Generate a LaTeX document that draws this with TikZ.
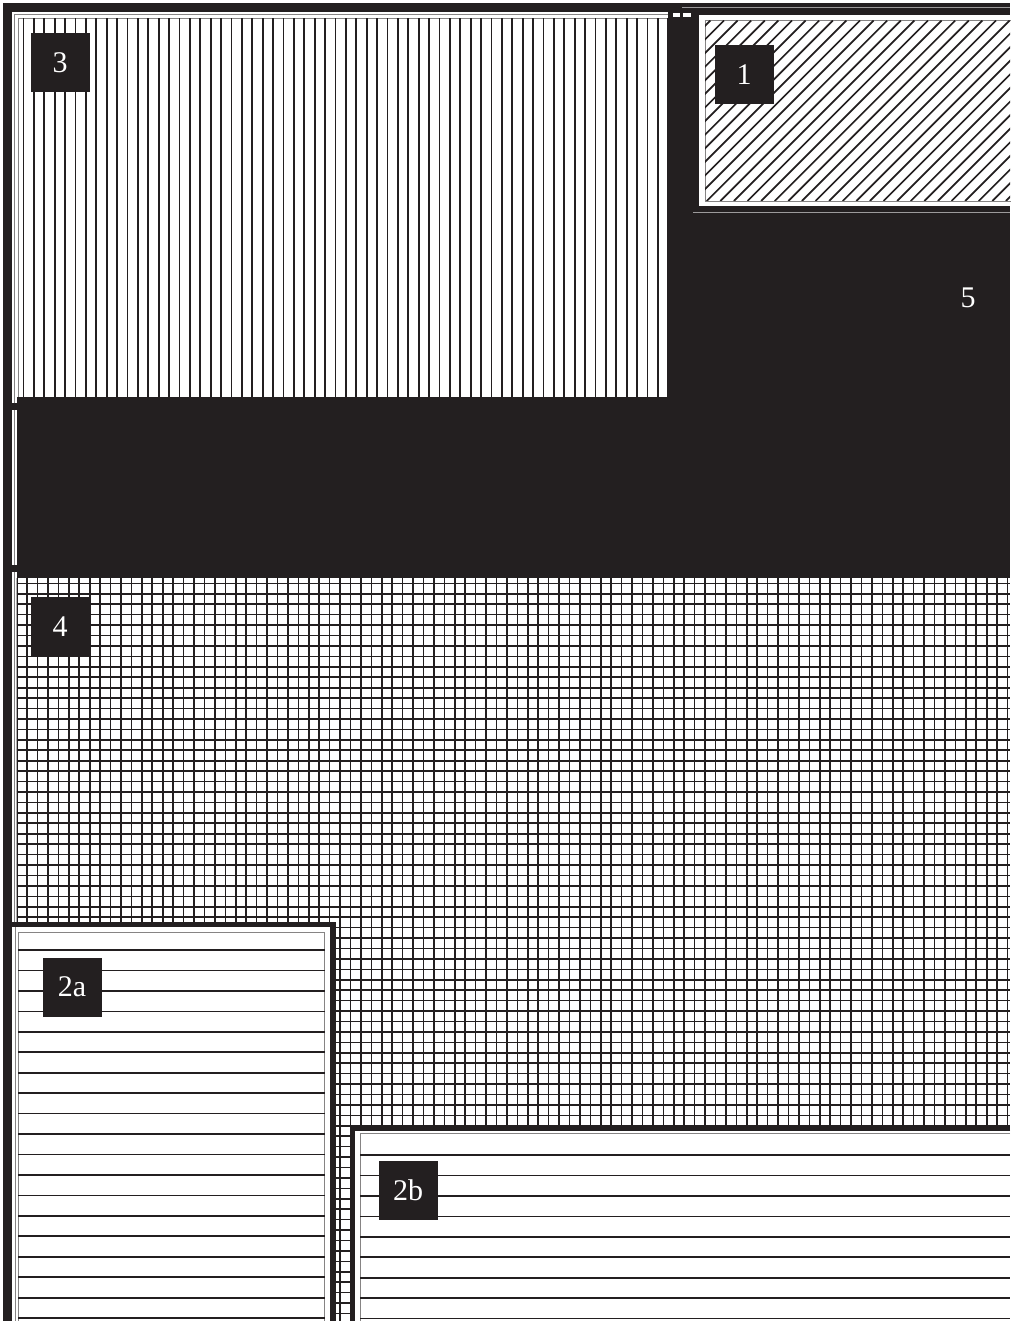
\documentclass[tikz,border=0pt]{standalone}
\usepackage{fontspec}
\setmainfont{Liberation Serif}
\usepackage{xcolor}
\usetikzlibrary{positioning}

\definecolor{ink}{RGB}{35,31,32}
\tikzset{
  numbox/.style={fill=ink, text=white, inner sep=0pt, minimum width=59pt, minimum height=59pt, font=\fontsize{30}{30}\selectfont},
  hatch/.style={line width=1.7pt, draw=ink},
  rim/.style={line width=0.8pt, draw=ink!55},
  wall/.style={line width=5.5pt, draw=ink},
}

\begin{document}
\begin{tikzpicture}[x=1pt, y=-1pt]
    \useasboundingbox (0,0) rectangle (1010,1321);
    \fill[white] (0,0) rectangle (1010,1321);

    % --- 1. PARAMETERS ---
    \def\gridStep{10.43}   % grid of zone 4
    \def\rowStep{20.45}    % rows of zones 2a / 2b
    \def\colStep{10.4}     % columns of zone 3
    \def\diagStep{13.6}    % diagonals of zone 1

    % --- 2. ZONE 5 (SOLID) AND OUTER FRAME ---
    \fill[ink] (668,3) rectangle (1010,397);
    \fill[ink] (12,397) rectangle (1010,578);
    \fill[ink] (3,3) rectangle (682,12);
    \fill[ink] (3,3) rectangle (12,1321);
    \draw[line width=0.6pt, ink!45] (682,7) -- (1010,7);
    \fill[white] (673,13) rectangle (680,17);
    \fill[white] (683,13) rectangle (691,17);

    % left strip beside the solid band
    \fill[white] (12,397) rectangle (16.5,403);
    \fill[white] (12,410) rectangle (16.5,565);
    \fill[white] (12,572) rectangle (16.5,578);
    \draw[rim] (14,410) -- (14,565);

    % --- 3. ZONE 3 (VERTICAL LINES) ---
    \fill[white] (12,12) rectangle (668,397);
    \draw[rim] (14.5,14.5) -- (668,14.5);
    \draw[rim] (14.5,14.5) -- (14.5,403);
    \draw[rim] (18.5,18.5) -- (668,18.5);
    \draw[rim] (18.5,18.5) -- (18.5,397);
    \foreach \i in {0,...,62}{
        \draw[hatch] ({23.5+\colStep*\i},18.5) -- ({23.5+\colStep*\i},397);
    }

    % --- 4. ZONE 1 (DIAGONAL LINES) ---
    \fill[white] (699,15) rectangle (1010,206);
    \draw[rim] (1012,20.5) -- (705,20.5) -- (705,201) -- (1012,201);
    \begin{scope}
        \clip (705,20.5) rectangle (1010,201);
        \foreach \i in {-14,...,23}{
            \draw[hatch] ({706.7+\diagStep*\i},201) -- ++(180.5,-180.5);
        }
    \end{scope}
    \draw[line width=0.6pt, ink!45] (693,212) -- (1010,212);

    % --- 5. ZONE 4 (GRID) ---
    \fill[white] (12,578) rectangle (1010,1321);
    \draw[rim] (14.5,572) -- (14.5,922);
    \begin{scope}
        \clip (16.5,578) rectangle (1010,1321);
        \foreach \i in {0,...,95}{
            \draw[hatch, line width=1.6pt] ({16.7+\gridStep*\i},578) -- ({16.7+\gridStep*\i},1321);
        }
        \foreach \i in {0,...,71}{
            \draw[hatch, line width=1.6pt] (16.5,{583.4+\gridStep*\i}) -- (1010,{583.4+\gridStep*\i});
        }
    \end{scope}

    % --- 6. ZONE 2a (HORIZONTAL LINES) ---
    \fill[white] (12,927) rectangle (330,1321);
    \draw[rim] (15,927) -- (15,1321);
    \draw[rim] (18,932) -- (324.5,932) -- (324.5,1321);
    \draw[rim] (18,932) -- (18,1321);
    \foreach \i in {0,...,18}{
        \draw[hatch] (18,{950+\rowStep*\i}) -- (324.5,{950+\rowStep*\i});
    }

    % --- 7. ZONE 2b (HORIZONTAL LINES) ---
    \fill[white] (355,1130.5) rectangle (1010,1321);
    \draw[rim] (1010,1133.5) -- (360,1133.5) -- (360,1321);
    \foreach \i in {0,...,8}{
        \draw[hatch] (360,{1155+\rowStep*\i}) -- (1010,{1155+\rowStep*\i});
    }

    % --- 8. WALLS ---
    \draw[wall] (12,924.5) -- (333,924.5) -- (333,1321);
    \draw[wall] (1010,1128) -- (352.5,1128) -- (352.5,1321);

    % --- 9. ZONE LABELS ---
    \node[numbox] (lblThree) at (60,62.5) {3};
    \node[numbox] (lblOne) at (744,74.5) {1};
    \node[numbox] (lblFour) at (60,626.5) {4};
    \node[numbox] (lblTwoA) at (72,987) {2a};
    \node[numbox] (lblTwoB) at (408,1190.5) {2b};
    \node[text=white, font=\fontsize{30}{30}\selectfont] (lblFive) at (968,298) {5};

\end{tikzpicture}
\end{document}
